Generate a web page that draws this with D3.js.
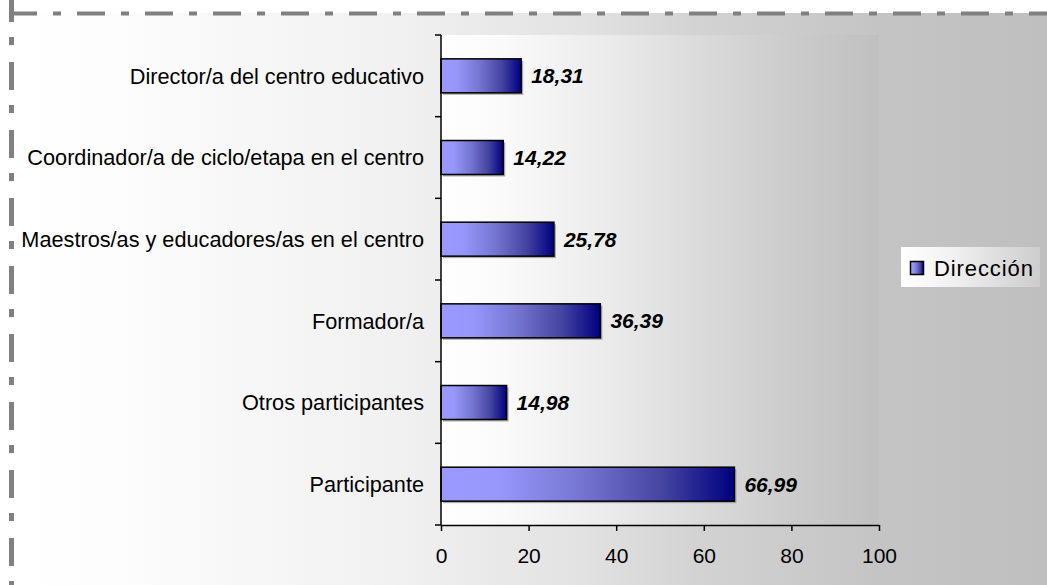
<!DOCTYPE html>
<html>
<head>
<meta charset="utf-8">
<script src="https://cdn.jsdelivr.net/npm/d3@7"></script>
<style>
  body { margin: 0; background: #ffffff; }
  svg { display: block; }
  text { font-family: "Liberation Sans", Arial, sans-serif; fill: #000; }
</style>
</head>
<body>
<svg id="chart" width="1047" height="585"></svg>
<script>
// Categories, top to bottom
const categories = [
  "Director/a del centro educativo",
  "Coordinador/a de ciclo/etapa en el centro",
  "Maestros/as y educadores/as en el centro",
  "Formador/a",
  "Otros participantes",
  "Participante"
];
// Series values (percent)
const values = [18.31, 14.22, 25.78, 36.39, 14.98, 66.99];
const seriesName = "Dirección";
const xTicks = [0, 20, 40, 60, 80, 100];

const W = 1047, H = 585;
const plot = { left: 441, right: 879, top: 35, bottom: 525 };
const fontSize = 21;

const svg = d3.select("#chart");
const defs = svg.append("defs");

function gradient(id, stops, x1, x2) {
  const g = defs.append("linearGradient").attr("id", id)
    .attr("x1", x1 !== undefined ? x1 : "0%").attr("x2", x2 !== undefined ? x2 : "100%")
    .attr("y1", 0).attr("y2", 0);
  if (x1 !== undefined) g.attr("gradientUnits", "userSpaceOnUse");
  stops.forEach(([o, c]) => g.append("stop").attr("offset", o).attr("stop-color", c));
}

// Chart area, plot area, legend and bar fills
gradient("chartBg", [[0, "#ffffff"], [0.09, "#fdfdfd"], [0.37, "#f1f1f1"], [0.55, "#e2e2e2"], [0.66, "#d3d3d3"], [0.84, "#c4c4c4"], [1, "#bfbfbf"]], 11, 1047);
gradient("plotBg", [[0, "#ffffff"], [0.14, "#fafafa"], [0.37, "#ececec"], [0.6, "#dadada"], [0.82, "#cacaca"], [1, "#c0c0c0"]]);
gradient("legendBg", [[0, "#ffffff"], [0.35, "#f2f2f2"], [1, "#cdcdcd"]]);
gradient("barFill", [[0, "#9999ff"], [0.2, "#9797fb"], [0.5, "#7272ce"], [0.75, "#4646a2"], [1, "#000080"]]);

// Chart area background
svg.append("rect").attr("x", 11).attr("y", 13).attr("width", W).attr("height", H)
  .attr("fill", "url(#chartBg)");

// Dash-dot chart border (top and left edges are in view)
svg.append("line").attr("x1", 9).attr("x2", W + 10).attr("y1", 13.5).attr("y2", 13.5)
  .attr("stroke", "#808080").attr("stroke-width", 4).attr("stroke-dasharray", "28,16,8,16");
svg.append("line").attr("x1", 11.5).attr("x2", 11.5).attr("y1", -6).attr("y2", H + 10)
  .attr("stroke", "#808080").attr("stroke-width", 5).attr("stroke-dasharray", "28,15,8,17");

// Plot area background
svg.append("rect").attr("x", plot.left).attr("y", plot.top)
  .attr("width", plot.right - plot.left).attr("height", plot.bottom - plot.top)
  .attr("fill", "url(#plotBg)");

const x = d3.scaleLinear().domain([0, 100]).range([plot.left, plot.right]);
const y = d3.scaleBand().domain(categories).range([plot.top, plot.bottom])
  .paddingInner(0.584).paddingOuter(0.292);

const fmt = v => d3.format(".2f")(v).replace(".", ",");

// Bars with a soft drop shadow
const bars = svg.append("g");
bars.selectAll("rect.shadow").data(values).join("rect").attr("class", "shadow")
  .attr("x", x(0) + 2).attr("y", (d, i) => y(categories[i]) + 2)
  .attr("width", d => x(d) - x(0)).attr("height", y.bandwidth())
  .attr("fill", "#8a8a8a").attr("opacity", 0.7);
bars.selectAll("rect.bar").data(values).join("rect").attr("class", "bar")
  .attr("x", x(0)).attr("y", (d, i) => y(categories[i]))
  .attr("width", d => x(d) - x(0)).attr("height", y.bandwidth())
  .attr("fill", "url(#barFill)").attr("stroke", "#000").attr("stroke-width", 1.5);

// Value labels
svg.append("g").selectAll("text").data(values).join("text")
  .attr("x", d => x(d) + 10)
  .attr("y", (d, i) => y(categories[i]) + y.bandwidth() / 2)
  .attr("dy", "0.36em")
  .attr("font-size", fontSize).attr("font-weight", "bold").attr("font-style", "italic")
  .text(d => fmt(d));

// Category axis
const yAxis = svg.append("g");
yAxis.append("line").attr("x1", plot.left).attr("x2", plot.left)
  .attr("y1", plot.top).attr("y2", plot.bottom).attr("stroke", "#000").attr("stroke-width", 1.5);
const bounds = d3.range(categories.length + 1).map(i => plot.top + i * y.step());
yAxis.selectAll("line.tick").data(bounds).join("line").attr("class", "tick")
  .attr("x1", plot.left - 6).attr("x2", plot.left).attr("y1", d => d).attr("y2", d => d)
  .attr("stroke", "#000").attr("stroke-width", 1.5);
yAxis.selectAll("text").data(categories).join("text")
  .attr("x", 424).attr("y", d => y(d) + y.bandwidth() / 2).attr("dy", "0.36em")
  .attr("text-anchor", "end").attr("font-size", 21.7)
  .text(d => d);

// Value axis
const xAxis = svg.append("g").attr("transform", `translate(0,${plot.bottom})`)
  .call(d3.axisBottom(x).tickValues(xTicks).tickSizeInner(6).tickSizeOuter(0).tickPadding(17).tickFormat(d3.format("d")));
xAxis.select(".domain").attr("stroke", "#000").attr("stroke-width", 1.5);
xAxis.selectAll(".tick line").attr("stroke", "#000").attr("stroke-width", 1.5);
xAxis.selectAll(".tick text").attr("font-size", fontSize).attr("font-family", "Liberation Sans, Arial, sans-serif").attr("fill", "#000");

// Legend
const legend = svg.append("g").attr("transform", "translate(901,247)");
legend.append("rect").attr("width", 139).attr("height", 40).attr("fill", "url(#legendBg)");
legend.append("rect").attr("x", 9.5).attr("y", 14.5).attr("width", 13).attr("height", 13)
  .attr("fill", "url(#barFill)").attr("stroke", "#000").attr("stroke-width", 1.5);
legend.append("text").attr("x", 33).attr("y", 21).attr("dy", "0.36em")
  .attr("font-size", 22).attr("letter-spacing", 0.9).text(seriesName);
</script>
</body>
</html>
